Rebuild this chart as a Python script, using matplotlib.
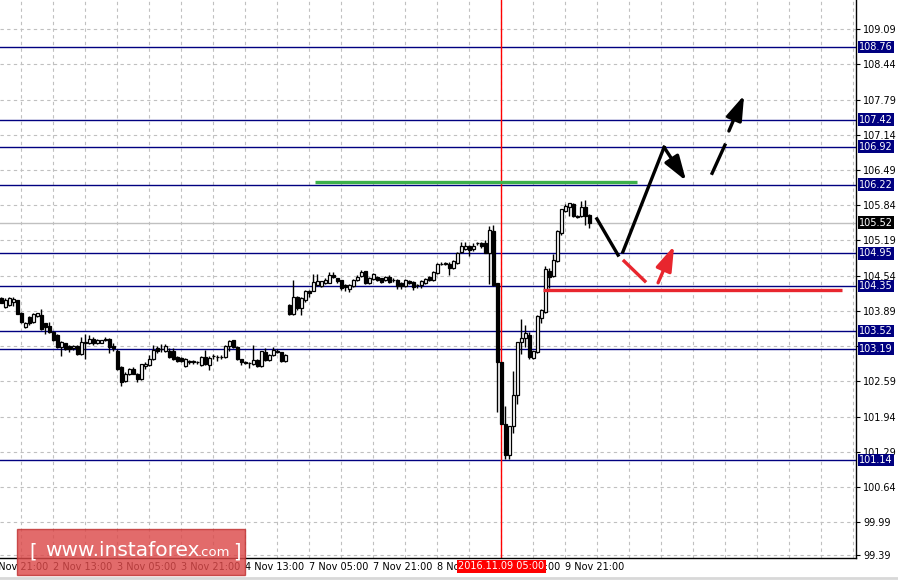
import matplotlib.pyplot as plt
import matplotlib.transforms as mtransforms
from matplotlib.patches import Rectangle
import numpy as np

# hourly candles, 2 Nov 00:00 .. 9 Nov (weekend removed)
opens = [104.13, 103.97, 104.00, 104.06, 104.09, 103.86, 103.59, 103.78, 103.68, 103.80,
         103.82, 103.66, 103.61, 103.50, 103.44, 103.22, 103.29, 103.24, 103.20, 103.24,
         103.10, 103.30, 103.30, 103.38, 103.29, 103.30, 103.38, 103.38, 103.25, 103.16,
         102.85, 102.60, 102.73, 102.82, 102.73, 102.64, 102.88, 102.90, 103.00, 103.20,
         103.18, 103.16, 103.16, 103.16, 103.04, 103.02, 102.88, 102.95, 102.96, 102.94,
         102.90, 103.04, 102.90, 103.05, 103.04, 103.04, 103.04, 103.24, 103.35, 103.22,
         103.00, 102.95, 102.93, 102.92, 102.99, 102.88, 103.14, 102.99, 103.07, 103.16,
         103.13, 102.97,
         104.00, 103.84, 104.15, 103.94, 104.09, 104.26, 104.26, 104.37, 104.35, 104.41,
         104.41, 104.55, 104.49, 104.46, 104.36, 104.29, 104.35, 104.46, 104.54, 104.62,
         104.41, 104.48, 104.51, 104.49, 104.46, 104.52, 104.46, 104.46, 104.40, 104.35,
         104.45, 104.43, 104.37, 104.37, 104.40, 104.51, 104.47, 104.59, 104.76, 104.76,
         104.76, 104.68, 104.77, 104.97, 105.03, 105.09, 105.03, 105.14, 105.14, 105.15,
         104.96, 105.37, 104.40, 102.94, 101.80, 101.24, 101.77, 102.34, 103.32, 103.39,
         103.45, 103.02, 103.14, 103.76, 103.87, 104.63, 104.54, 104.82, 105.33, 105.73,
         105.81, 105.87, 105.65, 105.64, 105.80, 105.66]
highs = [104.15, 104.12, 104.15, 104.15, 104.10, 103.87, 103.69, 103.80, 103.85, 103.86,
         103.92, 103.67, 103.69, 103.52, 103.46, 103.34, 103.30, 103.26, 103.27, 103.26,
         103.41, 103.47, 103.45, 103.41, 103.37, 103.36, 103.41, 103.39, 103.30, 103.18,
         102.87, 102.76, 102.83, 102.85, 102.75, 102.92, 102.95, 103.08, 103.27, 103.25,
         103.28, 103.28, 103.20, 103.20, 103.06, 103.04, 103.02, 102.99, 102.98, 102.97,
         103.06, 103.17, 103.05, 103.10, 103.08, 103.07, 103.26, 103.35, 103.36, 103.24,
         103.01, 102.97, 102.95, 103.27, 103.00, 103.16, 103.21, 103.09, 103.22, 103.18,
         103.14, 103.09,
         104.02, 104.46, 104.17, 104.14, 104.28, 104.27, 104.57, 104.57, 104.45, 104.50,
         104.60, 104.60, 104.50, 104.47, 104.38, 104.39, 104.48, 104.55, 104.64, 104.63,
         104.51, 104.59, 104.53, 104.50, 104.54, 104.55, 104.49, 104.48, 104.42, 104.48,
         104.47, 104.44, 104.39, 104.46, 104.50, 104.53, 104.62, 104.78, 104.80, 104.80,
         104.79, 104.83, 104.98, 105.16, 105.16, 105.11, 105.15, 105.17, 105.16, 105.20,
         105.45, 105.47, 104.40, 102.94, 102.14, 101.77, 102.79, 103.32, 103.75, 103.63,
         103.50, 103.16, 103.82, 103.93, 104.72, 104.68, 104.94, 105.38, 105.78, 105.86,
         105.88, 105.88, 105.66, 105.92, 105.93, 105.68]
lows = [104.03, 103.95, 103.98, 103.99, 103.83, 103.67, 103.58, 103.64, 103.67, 103.78,
        103.54, 103.47, 103.49, 103.33, 103.20, 103.06, 103.17, 103.13, 103.17, 103.08,
        103.07, 103.01, 103.28, 103.27, 103.28, 103.29, 103.34, 103.12, 103.15, 102.80,
        102.51, 102.58, 102.70, 102.72, 102.57, 102.62, 102.82, 102.88, 102.98, 103.12,
        103.14, 103.14, 103.02, 102.98, 102.95, 102.95, 102.86, 102.91, 102.92, 102.91,
        102.88, 102.90, 102.80, 103.00, 102.97, 103.00, 103.02, 103.15, 103.20, 102.98,
        102.90, 102.91, 102.84, 102.90, 102.86, 102.86, 102.97, 102.97, 103.05, 103.11,
        102.95, 102.95,
        103.82, 103.82, 103.90, 103.81, 104.06, 104.14, 104.25, 104.35, 104.33, 104.38,
        104.40, 104.49, 104.40, 104.27, 104.25, 104.24, 104.33, 104.44, 104.52, 104.38,
        104.39, 104.46, 104.44, 104.40, 104.44, 104.41, 104.43, 104.30, 104.30, 104.33,
        104.38, 104.28, 104.32, 104.32, 104.38, 104.44, 104.45, 104.57, 104.73, 104.73,
        104.55, 104.66, 104.75, 104.95, 105.01, 104.90, 105.00, 105.10, 105.05, 104.95,
        104.38, 104.35, 102.02, 101.80, 101.16, 101.15, 101.64, 102.17, 103.10, 103.22,
        103.00, 103.00, 103.12, 103.66, 103.85, 104.31, 104.52, 104.80, 105.30, 105.72,
        105.64, 105.63, 105.60, 105.62, 105.48, 105.42]
closes = [104.03, 104.09, 104.12, 104.11, 103.84, 103.69, 103.67, 103.66, 103.82, 103.84,
          103.55, 103.60, 103.50, 103.35, 103.22, 103.32, 103.19, 103.19, 103.24, 103.10,
          103.32, 103.31, 103.37, 103.29, 103.35, 103.35, 103.35, 103.22, 103.20, 102.82,
          102.57, 102.73, 102.81, 102.73, 102.63, 102.90, 102.90, 103.00, 103.16, 103.16,
          103.19, 103.24, 103.04, 103.00, 102.97, 102.97, 103.00, 102.96, 102.94, 102.95,
          103.04, 102.91, 103.02, 103.05, 103.04, 103.04, 103.24, 103.33, 103.22, 103.00,
          102.94, 102.93, 102.93, 102.98, 102.88, 103.14, 102.99, 103.07, 103.17, 103.13,
          102.97, 103.07,
          103.84, 104.15, 103.94, 104.12, 104.26, 104.23, 104.41, 104.43, 104.43, 104.46,
          104.55, 104.51, 104.45, 104.31, 104.33, 104.37, 104.46, 104.52, 104.60, 104.40,
          104.49, 104.57, 104.46, 104.43, 104.52, 104.43, 104.46, 104.35, 104.35, 104.46,
          104.41, 104.33, 104.37, 104.43, 104.48, 104.46, 104.60, 104.76, 104.76, 104.77,
          104.68, 104.80, 104.96, 105.08, 105.09, 105.02, 105.09, 105.14, 105.08, 104.96,
          105.37, 104.37, 102.94, 101.80, 101.24, 101.77, 102.34, 103.32, 103.38, 103.47,
          103.04, 103.14, 103.80, 103.90, 104.65, 104.52, 104.83, 105.36, 105.76, 105.82,
          105.87, 105.64, 105.62, 105.80, 105.64, 105.52]

# levels
levels = [108.76, 107.42, 106.92, 106.22, 104.95, 104.35, 103.52, 103.19, 101.14]
bid = 105.52
yticks = [109.09, 108.44, 107.79, 107.14, 106.49, 105.84, 105.19, 104.54, 103.89,
          103.24, 102.59, 101.94, 101.29, 100.64, 99.99, 99.39]
hidden_ticks = [103.24]

time_labels = ["1 Nov 21:00", "2 Nov 13:00", "3 Nov 05:00", "3 Nov 21:00", "4 Nov 13:00",
               "7 Nov 05:00", "7 Nov 21:00", "8 Nov 13:00", "9 Nov 05:00", "9 Nov 21:00"]
time_label_idx = [-3, 13, 29, 45, 61, 77, 93, 109, 125, 141]
cursor_idx = 125
cursor_text = "2016.11.09 05:00"

# forecast drawings (bar index, price)
green_line = ([78.4, 158.9], [106.26, 106.26])
red_line = ([135.4, 210.2], [104.28, 104.28])
black_down = ([148.9, 154.2], [105.59, 104.92])
black_up = ([155.4, 165.7], [104.98, 106.91])
black_arrow = ((165.7, 106.91), (171.2, 106.29))
dash_piece = ([177.7, 180.9], [106.43, 106.95])
dash_arrow = ((181.9, 107.21), (185.7, 107.87))
red_down = ([155.7, 160.9], [104.81, 104.44])
red_arrow = ((164.2, 104.41), (168.2, 105.09))

fig = plt.figure(figsize=(8.98, 5.8), dpi=100)
ax = fig.add_axes([0, 22 / 580, 856 / 898, 558 / 580])
ax.set_xlim(-0.325, 213.675)
ax.set_ylim(99.332, 109.627)

# grid
for k in range(27):
    ax.axvline(5 + 8 * k, color="#c0c0c0", lw=0.8, ls=(0, (3, 3)), zorder=0)
for t in yticks:
    ax.axhline(t, color="#c0c0c0", lw=0.8, ls=(0, (3, 3)), zorder=0)

# levels
ax.axhline(bid, color="#c0c0c0", lw=1, zorder=1)
for lv in levels:
    ax.axhline(lv, color="#000080", lw=1, zorder=1)

# cursor line
ax.axvline(cursor_idx, color="#ff0000", lw=1, zorder=1)

# candles
x = np.arange(len(opens))
o = np.array(opens)
c = np.array(closes)
ax.vlines(x, lows, highs, color="black", lw=1, zorder=3)
up = c >= o
ax.bar(x[up], (c - o)[up] + 0.005, bottom=o[up], width=0.75, color="white",
       edgecolor="black", lw=0.9, zorder=4)
ax.bar(x[~up], (o - c)[~up], bottom=c[~up], width=0.75, color="black",
       edgecolor="black", lw=0.9, zorder=4)

# drawings
ax.plot(*green_line, color="#3cb04a", lw=2.4, solid_capstyle="butt", zorder=5)
ax.plot(*red_line, color="#e8262e", lw=2.4, solid_capstyle="butt", zorder=5)
ax.plot(*black_down, color="black", lw=2.4, zorder=6)
ax.plot(*black_up, color="black", lw=2.4, zorder=6)
ax.plot(*dash_piece, color="black", lw=2.4, zorder=6)
ax.plot(*red_down, color="#e8262e", lw=2.4, zorder=6)
astyle = "-|>,head_length=1.0,head_width=0.33"
for (p0, p1), col in [(black_arrow, "black"), (dash_arrow, "black"), (red_arrow, "#e8262e")]:
    ax.annotate("", xy=p1, xytext=p0,
                arrowprops=dict(arrowstyle=astyle, color=col, lw=2.4,
                                mutation_scale=15, shrinkA=0, shrinkB=0),
                zorder=6)

# axes look
for s in ["left", "top"]:
    ax.spines[s].set_visible(False)
ax.spines["right"].set_linewidth(1)
ax.spines["bottom"].set_linewidth(1)
ax.yaxis.tick_right()
ax.set_yticks(yticks)
ax.set_yticklabels(["" if t in hidden_ticks else f"{t:.2f}" for t in yticks], fontsize=7)
ax.tick_params(axis="y", length=3, pad=2, width=0.8)
ax.set_xticks([])

# level labels on price scale
trans_y = mtransforms.blended_transform_factory(ax.transAxes, ax.transData)
for lv in levels:
    ax.text(1.0035, lv, f"{lv:.2f}", transform=trans_y, fontsize=7, color="white",
            ha="left", va="center", clip_on=False, zorder=10,
            bbox=dict(boxstyle="square,pad=0.15", fc="#000080", ec="none"))
ax.text(1.0035, bid, f"{bid:.2f}", transform=trans_y, fontsize=7, color="white",
        ha="left", va="center", clip_on=False, zorder=10,
        bbox=dict(boxstyle="square,pad=0.15", fc="black", ec="none"))

# time labels
trans_x = mtransforms.blended_transform_factory(ax.transData, ax.transAxes)
for i, lab in zip(time_label_idx, time_labels):
    ax.text(i, -0.007, lab, transform=trans_x, fontsize=7, ha="left", va="top",
            clip_on=False)
ax.text(cursor_idx, -0.006, cursor_text, transform=trans_x, fontsize=7, color="white",
        ha="center", va="top", clip_on=False, zorder=10,
        bbox=dict(boxstyle="square,pad=0.15", fc="#ff0000", ec="none"))

# bottom window border
fig.add_artist(plt.Line2D([0, 1], [2 / 580, 2 / 580], color="#d8d8d8", lw=2))

# watermark
fig.patches.append(Rectangle((17 / 898, 5 / 580), 228 / 898, 46 / 580, transform=fig.transFigure,
                             fc="#dc4a4a", ec="#c03030", alpha=0.82, lw=1, zorder=20))
fig.text(29 / 898, 28 / 580, "[", color="white", fontsize=14, va="center", zorder=21)
fig.text(45 / 898, 30 / 580, "www.instaforex", color="white", fontsize=14.5, va="center", zorder=21)
fig.text(198 / 898, 28 / 580, ".com", color="white", fontsize=9.5, va="center", zorder=21)
fig.text(233 / 898, 28 / 580, "]", color="white", fontsize=14, va="center", zorder=21)

fig.savefig("out.png", dpi=100)
